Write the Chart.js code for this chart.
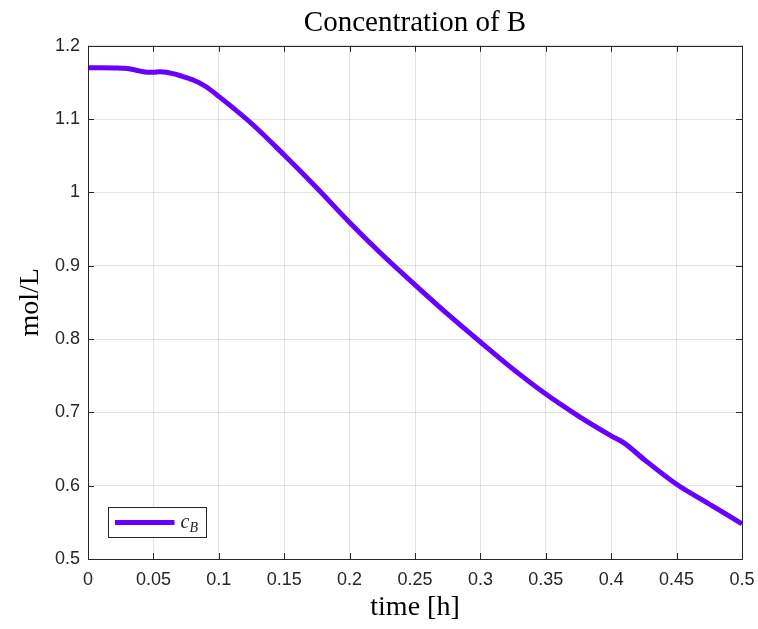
<!DOCTYPE html>
<html>
<head>
<meta charset="utf-8">
<script src="https://cdn.jsdelivr.net/npm/chart.js@4/dist/chart.umd.min.js"></script>
<style>
  html, body { margin: 0; padding: 0; background: #ffffff; }
  #wrap { width: 758px; height: 629px; }
</style>
</head>
<body>
<div id="wrap"><canvas id="c" width="758" height="629"></canvas></div>
<script>
// ---- data ----
const timeH = [0, 0.01, 0.02, 0.03, 0.04, 0.045, 0.05, 0.055, 0.06, 0.065, 0.07, 0.08, 0.09, 0.1,
  0.125, 0.15, 0.175, 0.2, 0.225, 0.25, 0.275, 0.3, 0.325, 0.35, 0.375, 0.4, 0.41, 0.425, 0.45, 0.475, 0.5];
const cB = [1.170, 1.170, 1.1698, 1.169, 1.1655, 1.1640, 1.1638, 1.1645, 1.1640, 1.162, 1.1595, 1.1536, 1.1445, 1.131,
  1.094, 1.051, 1.006, 0.959, 0.915, 0.874, 0.834, 0.796, 0.759, 0.725, 0.695, 0.668, 0.658, 0.636, 0.602, 0.575, 0.548];
const xTicks = [0, 0.05, 0.1, 0.15, 0.2, 0.25, 0.3, 0.35, 0.4, 0.45, 0.5];
const yTicks = [0.5, 0.6, 0.7, 0.8, 0.9, 1, 1.1, 1.2];
const titleText = 'Concentration of B';
const xTitle = 'time [h]';
const yTitle = 'mol/L';
const seriesName = 'c';
const seriesSub = 'B';

const lineColor = 'rgb(102,0,255)';
const axisColor = '#262626';
const gridColor = 'rgba(0,0,0,0.11)';
const serif = '"Liberation Serif", "DejaVu Serif", serif';
const sans = '"Liberation Sans", Arial, sans-serif';

const fmt = v => String(parseFloat(Number(v).toFixed(3)));

const boxPlugin = {
  id: 'boxAndTicks',
  afterLayout(chart) {
    // center the title over the plot area
    const tb = chart.titleBlock;
    if (tb) {
      tb.left = chart.chartArea.left;
      tb.right = chart.chartArea.right;
      tb.width = tb.right - tb.left;
    }
  },
  afterDraw(chart) {
    const {ctx, chartArea: a, scales} = chart;
    ctx.save();
    ctx.strokeStyle = axisColor;
    ctx.lineWidth = 1;
    // box
    ctx.strokeRect(Math.round(a.left) + 0.5, Math.round(a.top) + 0.5,
      Math.round(a.right - a.left), Math.round(a.bottom - a.top));
    // inward ticks
    const L = 6;
    ctx.beginPath();
    xTicks.forEach(t => {
      const x = Math.round(scales.x.getPixelForValue(t)) + 0.5;
      ctx.moveTo(x, a.bottom); ctx.lineTo(x, a.bottom - L);
      ctx.moveTo(x, a.top); ctx.lineTo(x, a.top + L);
    });
    yTicks.forEach(t => {
      const y = Math.round(scales.y.getPixelForValue(t)) + 0.5;
      ctx.moveTo(a.left, y); ctx.lineTo(a.left + L, y);
      ctx.moveTo(a.right, y); ctx.lineTo(a.right - L, y);
    });
    ctx.stroke();

    // legend box (inside, south-west)
    const bx = a.left + 20.5, by = a.bottom - 51.5, bw = 98, bh = 30;
    ctx.fillStyle = '#ffffff';
    ctx.fillRect(bx, by, bw, bh);
    ctx.strokeStyle = axisColor;
    ctx.strokeRect(bx, by, bw, bh);
    ctx.strokeStyle = lineColor;
    ctx.lineWidth = 5;
    ctx.beginPath();
    ctx.moveTo(bx + 6.5, by + bh / 2);
    ctx.lineTo(bx + 66, by + bh / 2);
    ctx.stroke();
    ctx.fillStyle = axisColor;
    ctx.textBaseline = 'alphabetic';
    ctx.font = 'italic 20px ' + serif;
    ctx.fillText(seriesName, bx + 72, by + bh / 2 + 5);
    ctx.font = 'italic 14px ' + serif;
    ctx.fillText(seriesSub, bx + 81, by + bh / 2 + 9);
    ctx.restore();
  }
};

new Chart(document.getElementById('c'), {
  type: 'line',
  data: {
    labels: timeH,
    datasets: [{
      label: seriesName + seriesSub,
      data: timeH.map((t, i) => ({x: t, y: cB[i]})),
      borderColor: lineColor,
      backgroundColor: lineColor,
      borderWidth: 5,
      pointRadius: 0,
      cubicInterpolationMode: 'monotone',
      fill: false
    }]
  },
  options: {
    responsive: false,
    animation: false,
    devicePixelRatio: 1,
    layout: { padding: { left: 0, right: 16, top: 0, bottom: 0 } },
    plugins: {
      legend: { display: false },
      tooltip: { enabled: false },
      title: {
        display: true,
        text: titleText,
        color: '#000000',
        font: { family: serif, size: 29, weight: 'normal' },
        padding: { top: 6, bottom: 5 }
      }
    },
    scales: {
      x: {
        type: 'linear',
        min: 0, max: 0.5,
        afterBuildTicks(scale) { scale.ticks = xTicks.map(v => ({value: v})); },
        afterFit(scale) { scale.height = 70; scale.paddingLeft = 0; scale.paddingRight = 0; },
        ticks: {
          color: axisColor,
          font: { family: sans, size: 18 },
          padding: 10,
          maxRotation: 0,
          autoSkip: false,
          callback: v => fmt(v)
        },
        grid: { color: gridColor, drawTicks: false, lineWidth: 1 },
        border: { display: false },
        title: {
          display: true, text: xTitle, color: '#000000',
          font: { family: serif, size: 28, weight: 'normal' },
          padding: { top: 0, bottom: 5 }
        }
      },
      y: {
        type: 'linear',
        min: 0.5, max: 1.2,
        afterBuildTicks(scale) { scale.ticks = yTicks.map(v => ({value: v})); },
        afterFit(scale) { scale.width = 88; scale.paddingTop = 0; scale.paddingBottom = 0; },
        ticks: {
          color: axisColor,
          font: { family: sans, size: 18 },
          padding: 8,
          autoSkip: false,
          callback: v => fmt(v)
        },
        grid: { color: gridColor, drawTicks: false, lineWidth: 1 },
        border: { display: false },
        title: {
          display: true, text: yTitle, color: '#000000',
          font: { family: serif, size: 28, weight: 'normal' },
          padding: { top: 14, bottom: 0 }
        }
      }
    }
  },
  plugins: [boxPlugin]
});
</script>
</body>
</html>
